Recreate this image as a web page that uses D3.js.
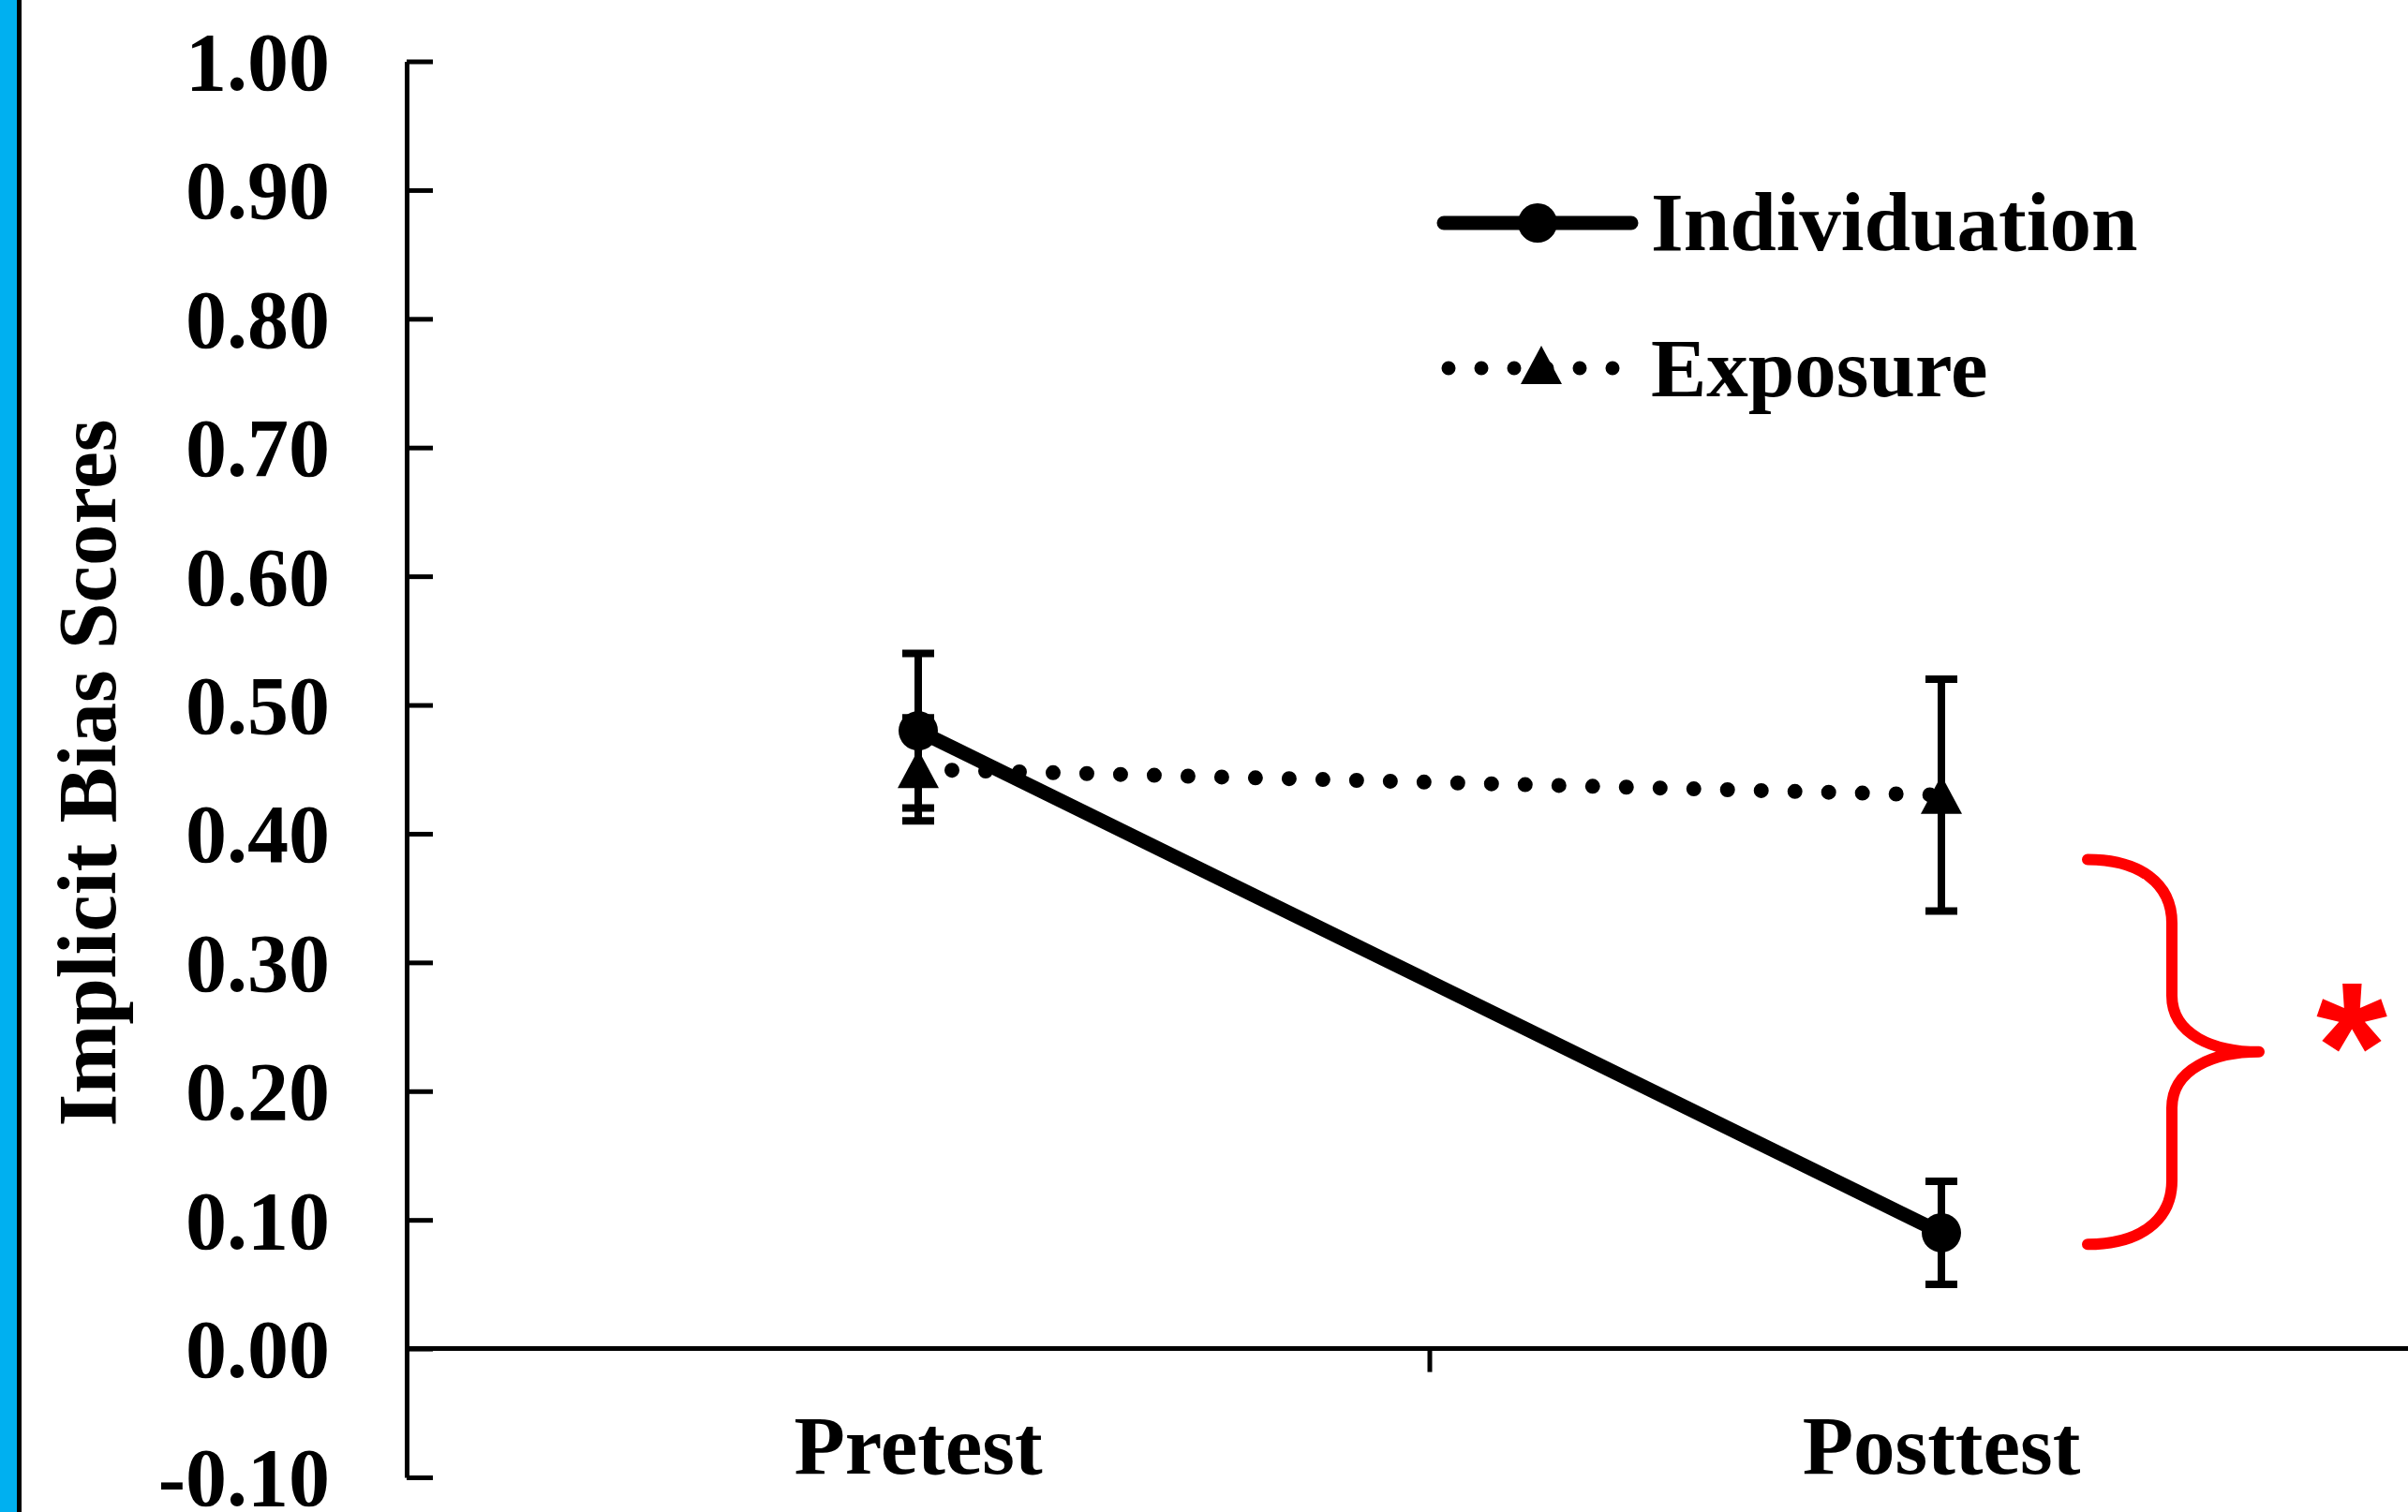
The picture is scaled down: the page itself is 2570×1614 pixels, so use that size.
<!DOCTYPE html>
<html><head><meta charset="utf-8">
<script src="https://cdn.jsdelivr.net/npm/d3@7"></script>
<style>html,body{margin:0;padding:0;background:#fff;overflow:hidden;} svg{display:block;}</style>
</head><body><svg id="c" width="2570" height="1614"></svg>
<script>
// ---- data ----
const categories = ["Pretest", "Posttest"];
const seriesNames = ["Individuation", "Exposure"];
const individuation = [0.48, 0.09];
const individuationErr = [0.06, 0.04];
const exposure = [0.45, 0.43];
const exposureErr = [0.04, 0.09];
const yTicks = [-0.10, 0.00, 0.10, 0.20, 0.30, 0.40, 0.50, 0.60, 0.70, 0.80, 0.90, 1.00];
const yTickLabels = ["-0.10", "0.00", "0.10", "0.20", "0.30", "0.40", "0.50", "0.60", "0.70", "0.80", "0.90", "1.00"];
const yTitle = "Implicit Bias Scores";
const braceRange = [0.081, 0.38];
const sigMark = "*";

// ---- setup ----
const W = 2570, H = 1614;
const svg = d3.select("#c");
const FONT = "'Liberation Serif', 'Times New Roman', serif";
svg.append("rect").attr("width", W).attr("height", H).attr("fill", "#fff");

// left decorative edge
svg.append("rect").attr("x", 0).attr("y", 0).attr("width", 18).attr("height", H).attr("fill", "#00B0F0");
svg.append("rect").attr("x", 18).attr("y", 0).attr("width", 5).attr("height", H).attr("fill", "#000");

const y = d3.scaleLinear().domain([-0.1, 1.0]).range([1577, 65.5]);
const x = d3.scaleBand().domain(categories).range([434, 2618]);
const cx = c => x(c) + x.bandwidth() / 2;

// ---- y axis ----
const yAxis = d3.axisLeft(y)
  .tickValues(yTicks)
  .tickFormat((d, i) => yTickLabels[i])
  .tickSizeInner(-28).tickSizeOuter(0).tickPadding(82);
const gy = svg.append("g").attr("transform", "translate(434,0)").call(yAxis);
gy.select(".domain").attr("stroke", "#000").attr("stroke-width", 5);
gy.selectAll(".tick line").attr("stroke", "#000").attr("stroke-width", 5);
gy.selectAll(".tick text")
  .attr("font-family", FONT).attr("font-weight", "bold").attr("font-size", 88)
  .attr("fill", "#000").attr("dy", "0.34em");

// ---- x axis (at y = 0) ----
const xAxis = d3.axisBottom(x).tickSize(0).tickPadding(70);
const gx = svg.append("g").attr("transform", `translate(0,${y(0)})`).call(xAxis);
gx.select(".domain").remove();
gx.append("line").attr("x1", 434).attr("x2", 2618).attr("y1", 0).attr("y2", 0)
  .attr("stroke", "#000").attr("stroke-width", 5);
gx.append("line").attr("x1", x(categories[1])).attr("x2", x(categories[1]))
  .attr("y1", 0).attr("y2", 25).attr("stroke", "#000").attr("stroke-width", 5);
gx.selectAll(".tick text")
  .attr("font-family", FONT).attr("font-weight", "bold").attr("font-size", 89)
  .attr("fill", "#000");

// ---- y title ----
svg.append("text")
  .attr("transform", "translate(123,825) rotate(-90)")
  .attr("text-anchor", "middle")
  .attr("font-family", FONT).attr("font-weight", "bold").attr("font-size", 89)
  .attr("fill", "#000").text(yTitle);

// ---- series ----
const line = d3.line().x((d, i) => cx(categories[i])).y(d => y(d));

// Exposure dotted line
svg.append("path").datum(exposure).attr("d", line)
  .attr("fill", "none").attr("stroke", "#000").attr("stroke-width", 16)
  .attr("stroke-linecap", "round").attr("stroke-dasharray", "0 36");

// Individuation solid line
svg.append("path").datum(individuation).attr("d", line)
  .attr("fill", "none").attr("stroke", "#000").attr("stroke-width", 15);

// error bars
function errBars(vals, errs) {
  vals.forEach((v, i) => {
    const X = cx(categories[i]);
    const g = svg.append("g").attr("stroke", "#000").attr("stroke-width", 8);
    g.append("line").attr("x1", X).attr("x2", X).attr("y1", y(v + errs[i])).attr("y2", y(v - errs[i]));
    [v + errs[i], v - errs[i]].forEach(e => {
      g.append("line").attr("x1", X - 17).attr("x2", X + 17).attr("y1", y(e)).attr("y2", y(e));
    });
  });
}
errBars(individuation, individuationErr);
errBars(exposure, exposureErr);

const triPath = "M0,-21L22,20L-22,20Z";

// markers
svg.selectAll(".tri").data(exposure).enter().append("path")
  .attr("d", triPath)
  .attr("transform", (d, i) => `translate(${cx(categories[i])},${y(d)})`)
  .attr("fill", "#000");
svg.selectAll(".dot").data(individuation).enter().append("circle")
  .attr("cx", (d, i) => cx(categories[i])).attr("cy", d => y(d)).attr("r", 21)
  .attr("fill", "#000");

// ---- legend ----
const lg = svg.append("g");
lg.append("line").attr("x1", 1541).attr("x2", 1741).attr("y1", 238).attr("y2", 238)
  .attr("stroke", "#000").attr("stroke-width", 15).attr("stroke-linecap", "round");
lg.append("circle").attr("cx", 1641).attr("cy", 238).attr("r", 21).attr("fill", "#000");
lg.append("text").attr("x", 1762).attr("y", 267)
  .attr("font-family", FONT).attr("font-weight", "bold").attr("font-size", 89)
  .attr("fill", "#000").text(seriesNames[0]);

lg.append("line").attr("x1", 1546).attr("x2", 1732).attr("y1", 393).attr("y2", 393)
  .attr("stroke", "#000").attr("stroke-width", 15).attr("stroke-linecap", "round")
  .attr("stroke-dasharray", "0 35");
lg.append("path").attr("d", triPath).attr("transform", "translate(1645,390)").attr("fill", "#000");
lg.append("text").attr("x", 1762).attr("y", 423)
  .attr("font-family", FONT).attr("font-weight", "bold").attr("font-size", 89)
  .attr("fill", "#000").text(seriesNames[1]);

// ---- significance brace ----
const bx0 = cx(categories[1]) + 156;   // brace ends
const bx1 = bx0 + 90;                  // brace spine
const bx2 = bx0 + 183;                 // brace tip
const yt = y(braceRange[1]), yb = y(braceRange[0]);
const ym = (yt + yb) / 2;
const p = d3.path();
p.moveTo(bx0, yt);
p.bezierCurveTo(bx0 + 55, yt, bx1, yt + 25, bx1, yt + 68);
p.lineTo(bx1, ym - 60);
p.bezierCurveTo(bx1, ym - 18, bx1 + 45, ym, bx2, ym);
p.bezierCurveTo(bx1 + 45, ym, bx1, ym + 18, bx1, ym + 60);
p.lineTo(bx1, yb - 68);
p.bezierCurveTo(bx1, yb - 25, bx0 + 55, yb, bx0, yb);
svg.append("path").attr("d", p.toString())
  .attr("fill", "none").attr("stroke", "#FF0000").attr("stroke-width", 12)
  .attr("stroke-linecap", "round").attr("stroke-linejoin", "round");

svg.append("text").attr("x", 2510).attr("y", 1184)
  .attr("text-anchor", "middle")
  .attr("font-family", "'Liberation Sans', Arial, sans-serif").attr("font-weight", "bold")
  .attr("font-size", 195).attr("fill", "#FF0000").text(sigMark);
</script></body></html>
